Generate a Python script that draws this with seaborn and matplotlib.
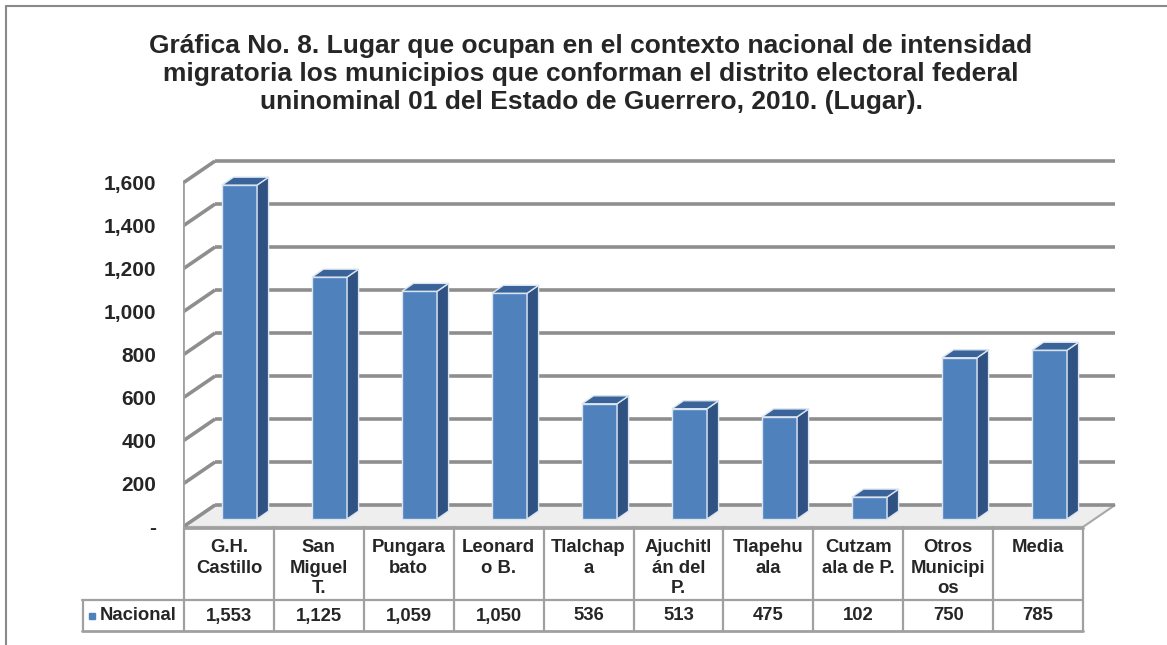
import numpy as np
import matplotlib
matplotlib.use('Agg')
import matplotlib.pyplot as plt
from matplotlib.patches import Polygon
from matplotlib.lines import Line2D
import seaborn as sns

# --- datos ---
municipios = ['G.H. Castillo', 'San Miguel T.', 'Pungarabato', 'Leonardo B.', 'Tlalchapa',
              'Ajuchitlán del P.', 'Tlapehuala', 'Cutzamala de P.', 'Otros Municipios', 'Media']
etiquetas_tabla = ['G.H.\nCastillo', 'San\nMiguel\nT.', 'Pungara\nbato', 'Leonard\no B.', 'Tlalchap\na',
                   'Ajuchitl\nán del\nP.', 'Tlapehu\nala', 'Cutzam\nala de P.', 'Otros\nMunicipi\nos', 'Media']
nacional = [1553, 1125, 1059, 1050, 536, 513, 475, 102, 750, 785]
ticks = [0, 200, 400, 600, 800, 1000, 1200, 1400, 1600]
tick_labels = ['-', '200', '400', '600', '800', '1,000', '1,200', '1,400', '1,600']
serie = 'Nacional'

titulo = ('Gráfica No. 8. Lugar que ocupan en el contexto nacional de intensidad\n'
          'migratoria los municipios que conforman el distrito electoral federal\n'
          'uninominal 01 del Estado de Guerrero, 2010. (Lugar).')

sns.set_style('white')
plt.rcParams['font.family'] = ['Liberation Sans', 'DejaVu Sans']

W, H = 1167, 645
fig = plt.figure(figsize=(W / 100, H / 100), dpi=100)
fx = lambda px: px / W
fy = lambda py: 1 - py / H

# geometria pseudo 3D (unidades de datos)
PX_CAT, PX_VAL = 90.0, 0.215
OFF = 37          # profundidad del frente de la barra respecto al borde frontal
DX, DY = 0.356, 102  # profundidad total de la base
BDX, BDY = 0.128, 37  # profundidad de cada barra
BW = 0.39
x0 = -0.628       # borde frontal izquierdo
n = len(nacional)

left_px, right_px, bot_px, top_px = 183, 1125, 532, 150
ax = fig.add_axes([fx(left_px), fy(bot_px), fx(right_px) - fx(left_px), fy(top_px) - fy(bot_px)])
ax.set_xlim(x0, x0 + (right_px - left_px) / PX_CAT)
ax.set_ylim((519 - bot_px) / PX_VAL, (519 - top_px) / PX_VAL)

grid_c = '#8e8e8e'
tv = np.array(ticks)
# suelo
floor = Polygon([(x0, -OFF), (x0 + n, -OFF), (x0 + n + DX, -OFF + DY), (x0 + DX, -OFF + DY)],
                closed=True, facecolor='#eeeeee', edgecolor='#a8a8a8', lw=1.5, zorder=0.5)
ax.add_patch(floor)
# pared trasera y lateral
ax.hlines(tv - OFF + DY, x0 + DX, x0 + n + DX, color=grid_c, lw=2.6, zorder=1)
for v in tv:
    ax.plot([x0, x0 + DX], [v - OFF, v - OFF + DY], color=grid_c, lw=2.6, zorder=1,
            solid_capstyle='butt')
ax.plot([x0, x0], [-OFF, tv[-1] - OFF], color='#a0a0a0', lw=2, zorder=1)

# barras (cara frontal)
sns.barplot(x=municipios, y=nacional, width=BW, color='#4f81bd', saturation=1,
            edgecolor='#dbe5f1', linewidth=1, ax=ax, zorder=3)
for i, v in enumerate(nacional):
    side = Polygon([(i + BW / 2, 0), (i + BW / 2 + BDX, BDY), (i + BW / 2 + BDX, v + BDY), (i + BW / 2, v)],
                   closed=True, facecolor='#2f5283', edgecolor='#dbe5f1', lw=1, zorder=3)
    top = Polygon([(i - BW / 2, v), (i + BW / 2, v), (i + BW / 2 + BDX, v + BDY), (i - BW / 2 + BDX, v + BDY)],
                  closed=True, facecolor='#3a6399', edgecolor='#dbe5f1', lw=1, zorder=3)
    ax.add_patch(side)
    ax.add_patch(top)

ax.set_xlim(x0, x0 + (right_px - left_px) / PX_CAT)
ax.set_xticks([])
ax.set_xlabel('')
ax.set_ylabel('')
ax.set_yticks(tv - OFF)
ax.set_yticklabels(tick_labels, fontsize=15, fontweight='bold')
ax.tick_params(axis='y', length=0, pad=19)
for s in ax.spines.values():
    s.set_visible(False)

# tabla de datos
tax = fig.add_axes([fx(82), fy(632), fx(1083) - fx(82), fy(527) - fy(632)])
tax.set_xlim(82, 1083)
tax.set_ylim(632, 527)
tax.axis('off')
lc = '#a0a0a0'
c0, cw = 184, 89.9
edges = [c0 + cw * k for k in range(n + 1)]
tax.plot([c0, 1083], [527.5, 527.5], color=lc, lw=2, clip_on=False)
for xe in edges:
    tax.plot([xe, xe], [527, 631], color=lc, lw=1.6, clip_on=False)
tax.plot([82, 1083], [600, 600], color=lc, lw=1.6, clip_on=False)
tax.plot([82, 1083], [631, 631], color=lc, lw=2, clip_on=False)
tax.plot([83, 83], [600, 631], color=lc, lw=1.6, clip_on=False)
for k in range(n):
    cx = c0 + cw * (k + 0.5)
    tax.text(cx, 539, etiquetas_tabla[k], ha='center', va='top', fontsize=13.3,
             fontweight='bold', linespacing=1.28)
    tax.text(cx, 616, f'{nacional[k]:,}', ha='center', va='center', fontsize=13.3, fontweight='bold')
tax.plot([92], [615.5], marker='s', ms=5, color='#4f81bd', clip_on=False)
tax.text(100, 616, serie, ha='left', va='center', fontsize=13.3, fontweight='bold')

# titulo
fig.text(fx(591), fy(34), titulo, ha='center', va='top', fontsize=19, fontweight='bold',
         linespacing=1.22)

# borde del grafico
fig.add_artist(Line2D([fx(6), fx(6)], [fy(6), 0], color='#8a8a8a', lw=1.5))
fig.add_artist(Line2D([fx(6), 1], [fy(6), fy(6)], color='#8a8a8a', lw=1.5))

fig.savefig('out.png', dpi=100)
